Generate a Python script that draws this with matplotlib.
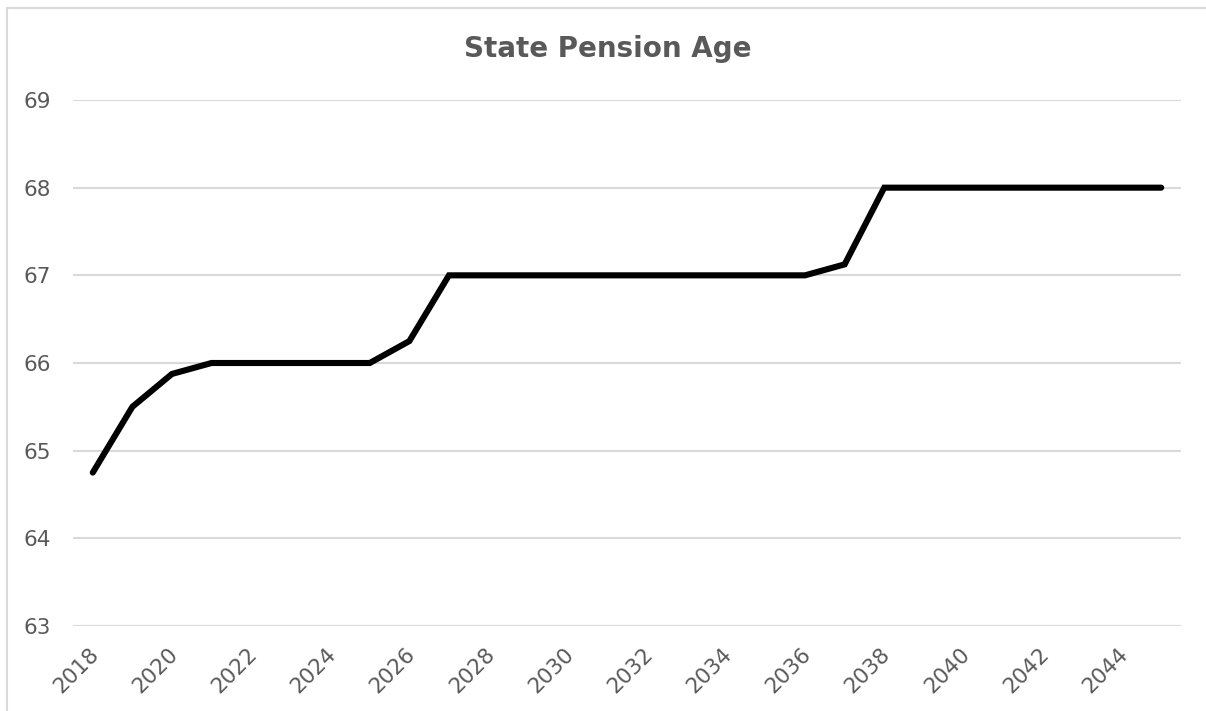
import numpy as np
import matplotlib.pyplot as plt
import matplotlib.transforms as mtransforms
from matplotlib.patches import Rectangle

# data
years = list(range(2018, 2046))
pension_age = [64.75, 65.5, 65.875, 66, 66, 66, 66, 66, 66.25, 67,
               67, 67, 67, 67, 67, 67, 67, 67, 67, 67.125, 68,
               68, 68, 68, 68, 68, 68, 68]
tick_years = list(range(2018, 2046, 2))
y_ticks = [63, 64, 65, 66, 67, 68, 69]

grey = '#595959'
plt.rcParams['font.family'] = 'DejaVu Sans'

fig = plt.figure(figsize=(12.06, 7.11), dpi=100)
W, H = 1206, 711

# outer chart frame (cropped at right and bottom)
fig.patches.append(Rectangle((7 / W, -0.1), 1.2, 1 - 8 / H + 0.1,
                             transform=fig.transFigure, fill=False,
                             edgecolor='#d9d9d9', linewidth=1.5))

ax = fig.add_axes([73 / W, 1 - 626 / H, (1181 - 73) / W, (626 - 100) / H])
ax.plot(years, pension_age, color='black', linewidth=4.4,
        solid_capstyle='round', solid_joinstyle='miter', zorder=3)

ax.set_xlim(2017.5, 2045.5)
ax.set_ylim(63, 69)
ax.set_yticks(y_ticks)
ax.set_xticks(tick_years)
ax.set_xticklabels([str(y) for y in tick_years], rotation=45,
                   ha='right', va='top', rotation_mode='anchor')
ax.tick_params(axis='both', length=0, labelsize=15.5, colors=grey)
ax.tick_params(axis='x', pad=13)
ax.tick_params(axis='y', pad=16)

# nudge rotated labels a little to the left
shift = mtransforms.ScaledTranslation(-4 / 100, 0, fig.dpi_scale_trans)
for lab in ax.get_xticklabels():
    lab.set_transform(lab.get_transform() + shift)

ax.grid(axis='y', color='#d9d9d9', linewidth=1.5)
ax.set_axisbelow(True)
for s in ax.spines.values():
    s.set_visible(False)

fig.text(608 / W, 1 - 49 / H, 'State Pension Age', ha='center', va='center',
         fontsize=20, fontweight='bold', color=grey)

fig.savefig('out.png', dpi=100)
